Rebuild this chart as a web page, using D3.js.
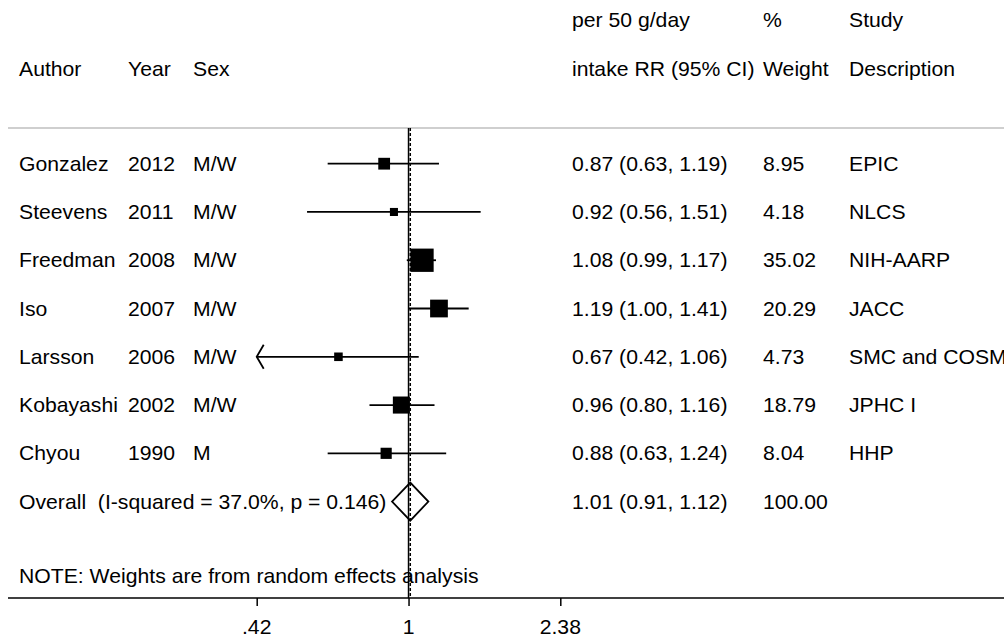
<!DOCTYPE html>
<html>
<head>
<meta charset="utf-8">
<script src="https://cdn.jsdelivr.net/npm/d3@7"></script>
<style>
  html, body { margin: 0; padding: 0; background: #fff; }
  svg { display: block; }
  text { font-family: "Liberation Sans", Arial, Helvetica, sans-serif; fill: #000; white-space: pre; }
</style>
</head>
<body>
<svg id="chart" width="1004" height="639"></svg>
<script>
// Study-level data: relative risk per 50 g/day intake with 95% CI
const authors = ["Gonzalez", "Steevens", "Freedman", "Iso", "Larsson", "Kobayashi", "Chyou"];
const years = ["2012", "2011", "2008", "2007", "2006", "2002", "1990"];
const sexes = ["M/W", "M/W", "M/W", "M/W", "M/W", "M/W", "M"];
const rr = [0.87, 0.92, 1.08, 1.19, 0.67, 0.96, 0.88];
const ciLow = [0.63, 0.56, 0.99, 1.00, 0.42, 0.80, 0.63];
const ciHigh = [1.19, 1.51, 1.17, 1.41, 1.06, 1.16, 1.24];
const weights = [8.95, 4.18, 35.02, 20.29, 4.73, 18.79, 8.04];
const descriptions = ["EPIC", "NLCS", "NIH-AARP", "JACC", "SMC and COSMO", "JPHC I", "HHP"];

// Pooled random-effects estimate
const overallLabel = "Overall  (I-squared = 37.0%, p = 0.146)";
const overallRR = 1.01;
const overallLow = 0.91;
const overallHigh = 1.12;
const overallWeight = 100.00;

// Axis ticks and header text
const tickValues = [0.42, 1, 2.38];
const tickLabels = [".42", "1", "2.38"];
const headerTop = ["per 50 g/day", "%", "Study"];
const headerBottom = ["Author", "Year", "Sex", "intake RR (95% CI)", "Weight", "Description"];
const note = "NOTE: Weights are from random effects analysis";

const fmt = d3.format(".2f");
const esText = (m, l, h) => `${fmt(m)} (${fmt(l)}, ${fmt(h)})`;

const svg = d3.select("#chart");
const W = 1004;
const FS = 20;            // base font size
const SX = 1.06;          // slight horizontal stretch of lettering

// Layout
const colAuthor = 19, colYear = 128, colSex = 193;
const colES = 572, colWeight = 763, colDesc = 849;
const yTopLine = 128, yAxis = 598;
const rowY = d3.scaleLinear().domain([0, 1]).range([163.7, 163.7 + 48.27]);
const yHeader1 = 20, yHeader2 = 69, yNote = 576;

const x = d3.scaleLog().domain([0.42, 2.38]).range([256.7, 560.3]);
const boxSide = d3.scaleSqrt().domain([0, 35.02]).range([0, 23.3]);

// text helper: centre-line y, horizontally stretched glyphs
function label(g, xPos, yCenter, str, anchor = "start") {
  g.append("text")
    .attr("transform", `translate(${xPos},${yCenter + FS * 0.355}) scale(${SX},1)`)
    .attr("text-anchor", anchor)
    .attr("font-size", FS)
    .attr("xml:space", "preserve")
    .text(str);
}

const textLayer = svg.append("g");

// header
[colES, colWeight, colDesc].forEach((cx, i) => label(textLayer, cx, yHeader1, headerTop[i]));
[colAuthor, colYear, colSex, colES, colWeight, colDesc].forEach((cx, i) => label(textLayer, cx, yHeader2, headerBottom[i]));

// separator under the header
svg.append("line")
  .attr("x1", 8).attr("x2", W)
  .attr("y1", yTopLine).attr("y2", yTopLine)
  .attr("stroke", "#a0a0a0").attr("stroke-width", 1.2);

// study rows text
authors.forEach((a, i) => {
  const y = rowY(i);
  label(textLayer, colAuthor, y, a);
  label(textLayer, colYear, y, years[i]);
  label(textLayer, colSex, y, sexes[i]);
  label(textLayer, colES, y, esText(rr[i], ciLow[i], ciHigh[i]));
  label(textLayer, colWeight, y, fmt(weights[i]));
  label(textLayer, colDesc, y, descriptions[i]);
});

// overall row text
const yOverall = rowY(authors.length);
label(textLayer, colAuthor, yOverall, overallLabel);
label(textLayer, colES, yOverall, esText(overallRR, overallLow, overallHigh));
label(textLayer, colWeight, yOverall, fmt(overallWeight));

label(textLayer, colAuthor, yNote, note);

// x axis
const axisG = svg.append("g").attr("transform", `translate(0,${yAxis})`);
axisG.call(d3.axisBottom(x).tickValues(tickValues).tickFormat((d, i) => tickLabels[i]).tickSize(8).tickSizeOuter(0));
axisG.select(".domain").remove();
axisG.selectAll(".tick line").attr("stroke", "#000").attr("stroke-width", 1.5);
axisG.selectAll(".tick text").remove();
tickValues.forEach((v, i) => label(axisG, x(v), 29, tickLabels[i], "middle"));
axisG.append("line")
  .attr("x1", 8).attr("x2", W).attr("y1", 0).attr("y2", 0)
  .attr("stroke", "#000").attr("stroke-width", 1.5);

// null line at RR = 1
svg.append("line")
  .attr("x1", x(1)).attr("x2", x(1))
  .attr("y1", yTopLine).attr("y2", yAxis)
  .attr("stroke", "#000").attr("stroke-width", 1.5);

// confidence intervals (clipped at the axis range with an arrow)
const [xmin, xmax] = x.domain();
const marks = svg.append("g");
authors.forEach((a, i) => {
  const y = rowY(i);
  const lo = Math.max(ciLow[i], xmin), hi = Math.min(ciHigh[i], xmax);
  marks.append("line")
    .attr("x1", x(lo)).attr("x2", x(hi))
    .attr("y1", y).attr("y2", y)
    .attr("stroke", "#000").attr("stroke-width", 1.8);
  if (ciLow[i] <= xmin) {
    const tip = x(xmin);
    marks.append("path")
      .attr("d", `M${tip + 7},${y - 12} L${tip},${y} L${tip + 7},${y + 12}`)
      .attr("fill", "none").attr("stroke", "#000").attr("stroke-width", 1.8);
  }
  const s = boxSide(weights[i]);
  marks.append("rect")
    .attr("x", x(rr[i]) - s / 2).attr("y", y - s / 2)
    .attr("width", s).attr("height", s)
    .attr("fill", "#000");
});

// pooled estimate line (dashed) and diamond
svg.append("line")
  .attr("x1", x(overallRR)).attr("x2", x(overallRR))
  .attr("y1", yTopLine).attr("y2", yAxis)
  .attr("stroke", "#000").attr("stroke-width", 1.5)
  .attr("stroke-dasharray", "3,2");

svg.append("path")
  .attr("d", `M${x(overallLow)},${yOverall} L${x(overallRR)},${yOverall - 19} L${x(overallHigh)},${yOverall} L${x(overallRR)},${yOverall + 19} Z`)
  .attr("fill", "none").attr("stroke", "#000").attr("stroke-width", 1.8);
</script>
</body>
</html>
